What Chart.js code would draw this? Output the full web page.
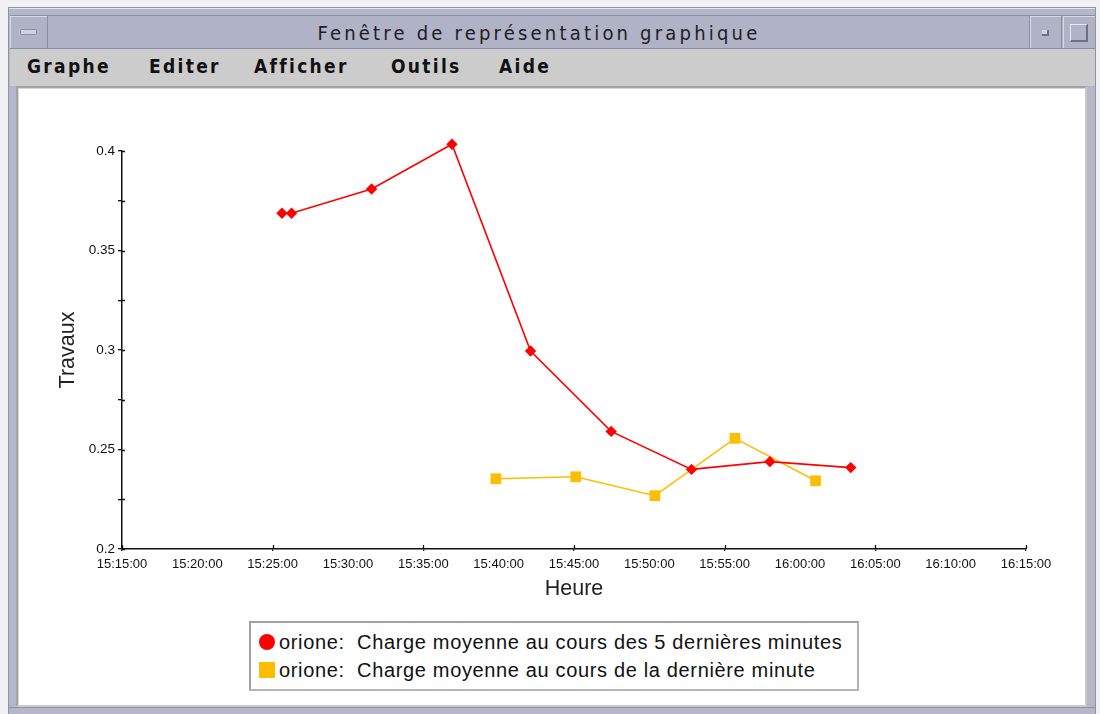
<!DOCTYPE html>
<html lang="fr">
<head>
<meta charset="utf-8">
<title>Fenêtre de représentation graphique</title>
<script src="https://cdn.jsdelivr.net/npm/chart.js@4.4.1/dist/chart.umd.min.js"></script>
<style>
  html, body { margin: 0; padding: 0; width: 1100px; height: 714px; overflow: hidden; background: #f1f1f4; }
  .abs { position: absolute; box-sizing: border-box; }
  #frame { left: 8px; top: 7px; width: 1088px; height: 707px; background: #b5b7c9; border-left: 1px solid #8f91a4; border-top: 1px solid #8f91a4; border-right: 1px solid #8f91a4; }
  #frameLineTop { left: 9px; top: 8px; width: 1086px; height: 1px; background: #e3e4ec; }
  #titlebar { left: 10px; top: 15px; width: 1085px; height: 34px; background: #b0b2c6; border-top: 1px solid #8c8ea2; border-bottom: 1px solid #8c8ea2; }
  #titleText { left: 48px; top: 16px; width: 982px; height: 34px; line-height: 34px; text-align: center; font-family: "DejaVu Sans Condensed", "DejaVu Sans", sans-serif; font-size: 20px; letter-spacing: 3.2px; color: #1e1e24; }
  #btnL { left: 10px; top: 16px; width: 38px; height: 32px; border-right: 1px solid #8c8ea2; box-shadow: inset 1px 1px 0 #d9dae4; }
  #btnLIcon { left: 20px; top: 29px; width: 17px; height: 6px; background: #cfd0dc; border: 1px solid #8c8ea2; border-radius: 2px; }
  #btnR1 { left: 1029px; top: 16px; width: 33px; height: 32px; border-left: 1px solid #8c8ea2; border-right: 1px solid #8c8ea2; box-shadow: inset 1px 1px 0 #d9dae4; }
  #btnR1Icon { left: 1042px; top: 30px; width: 7px; height: 6px; background: #d4d5df; border-right: 2px solid #6d6f84; border-bottom: 2px solid #6d6f84; }
  #btnR2 { left: 1063px; top: 16px; width: 32px; height: 32px; box-shadow: inset 1px 1px 0 #d9dae4; }
  #btnR2Icon { left: 1070px; top: 24px; width: 18px; height: 18px; border: 1px solid #e6e7ef; border-right: 2px solid #6d6f84; border-bottom: 2px solid #6d6f84; }
  #menubar { left: 10px; top: 49px; width: 1085px; height: 37px; background: #cccccc; }
  .menu { top: 52px; height: 28px; line-height: 28px; font-family: "DejaVu Sans Condensed", "DejaVu Sans", sans-serif; font-weight: bold; font-size: 19px; letter-spacing: 2.3px; color: #111; }
  #content { left: 16px; top: 86px; width: 1071px; height: 621px; background: #ffffff; border: 2px solid #a3a3a3; border-right-color: #c9c9c9; border-bottom-color: #c9c9c9; box-shadow: inset 1px 1px 0 #d6d6d6; }
  #frameBottom { left: 9px; top: 707px; width: 1086px; height: 7px; background: #b5b7c9; border-top: 1px solid #8f91a4; }
  #chart { position: absolute; left: 0; top: 0; }
  #legend { left: 249px; top: 621px; width: 610px; height: 70px; border: 2px solid #a2a2a2; border-right-color: #b4b4b4; border-bottom-color: #b4b4b4; background: #fff; padding-top: 5px; }
  .row { position: relative; height: 28px; white-space: pre; font-family: "Liberation Sans", Arial, sans-serif; font-size: 20px; color: #111; line-height: 28px; }
  .mark { position: absolute; left: 8px; top: 6px; width: 16px; height: 16px; }
  .txt { position: absolute; left: 28px; top: 0; letter-spacing: 0.65px; }
</style>
</head>
<body>
<div id="frame" class="abs"></div>
<div id="frameLineTop" class="abs"></div>
<div id="titlebar" class="abs"></div>
<div id="btnL" class="abs"></div>
<div id="btnLIcon" class="abs"></div>
<div id="btnR1" class="abs"></div>
<div id="btnR1Icon" class="abs"></div>
<div id="btnR2" class="abs"></div>
<div id="btnR2Icon" class="abs"></div>
<div id="titleText" class="abs">Fenêtre de représentation graphique</div>
<div id="menubar" class="abs"></div>
<div class="abs menu" style="left:27px">Graphe</div>
<div class="abs menu" style="left:149px">Editer</div>
<div class="abs menu" style="left:254px">Afficher</div>
<div class="abs menu" style="left:391px">Outils</div>
<div class="abs menu" style="left:499px">Aide</div>
<div id="content" class="abs"></div>
<div id="frameBottom" class="abs"></div>
<canvas id="chart" width="1100" height="714"></canvas>
<div id="legend" class="abs"></div>

<script>
// Sample times (HH:MM:SS) and load averages for host "orione"
const load5Times  = ['15:25:37', '15:26:15', '15:31:34', '15:36:54', '15:42:07', '15:47:28', '15:52:48', '15:58:00', '16:03:22'];
const load5Values = [0.3687, 0.3687, 0.3809, 0.4034, 0.2995, 0.2591, 0.2400, 0.2439, 0.2409];

const load1Times  = ['15:39:49', '15:45:07', '15:50:22', '15:55:41', '16:01:02'];
const load1Values = [0.2353, 0.2363, 0.2268, 0.2556, 0.2343];

const seriesLabels = [
  'orione:  Charge moyenne au cours des 5 dernières minutes',
  'orione:  Charge moyenne au cours de la dernière minute'
];

// Axis ranges and tick spacing
const xStart = '15:15:00', xEnd = '16:15:00';
const xLabelStep = 300;   // seconds between time labels
const xMarkStep = 600;    // seconds between tick marks
const yMin = 0.2, yMax = 0.4, yMinorStep = 0.025, yLabelStep = 0.05;

const toSec = t => { const [h, m, s] = t.split(':').map(Number); return h * 3600 + m * 60 + s; };
const fmtTime = v => {
  const h = Math.floor(v / 3600), m = Math.floor((v % 3600) / 60), s = Math.round(v % 60);
  return [h, m, s].map(n => String(n).padStart(2, '0')).join(':');
};
const pts = (times, vals) => times.map((t, i) => ({ x: toSec(t), y: vals[i] }));

const xMin = toSec(xStart), xMax = toSec(xEnd);
const isMark = v => Math.round(v - xMin) % xMarkStep === 0;
const isYLabel = v => Math.round(v * 1000) % Math.round(yLabelStep * 1000) === 0;

const RED = '#ff0000', YELLOW = '#ffbd00';

// Small marks on the inner side of both axes
const innerTicks = {
  id: 'innerTicks',
  beforeDatasetsDraw(chart) {
    const { ctx, chartArea: a, scales: { x, y } } = chart;
    ctx.save();
    ctx.strokeStyle = '#111';
    ctx.lineWidth = 1.3;
    ctx.beginPath();
    y.ticks.forEach(t => {
      const py = Math.round(y.getPixelForValue(t.value)) + 0.5;
      ctx.moveTo(a.left, py); ctx.lineTo(a.left + 3, py);
    });
    x.ticks.forEach(t => {
      if (!isMark(t.value)) return;
      const px = Math.round(x.getPixelForValue(t.value)) + 0.5;
      ctx.moveTo(px, a.bottom); ctx.lineTo(px, a.bottom - 4);
    });
    ctx.stroke();
    ctx.restore();
  }
};

const tickFont = { family: '"Liberation Sans", Arial, sans-serif', size: 13 };
const titleFont = { family: '"Liberation Sans", Arial, sans-serif', size: 21.5 };

const chart = new Chart(document.getElementById('chart'), {
  type: 'line',
  data: {
    datasets: [
      {
        label: seriesLabels[0],
        data: pts(load5Times, load5Values),
        borderColor: RED, backgroundColor: RED,
        borderWidth: 1.6, tension: 0, clip: false,
        pointStyle: 'rectRot', pointRadius: 5.7, pointHoverRadius: 14, pointBorderWidth: 0,
        legendMarker: 'circle'
      },
      {
        label: seriesLabels[1],
        data: pts(load1Times, load1Values),
        borderColor: YELLOW, backgroundColor: YELLOW,
        borderWidth: 1.5, tension: 0, clip: false,
        pointStyle: 'rect', pointRadius: 7.6, pointHoverRadius: 14, pointBorderWidth: 0,
        legendMarker: 'square'
      }
    ]
  },
  options: {
    responsive: false,
    animation: false,
    devicePixelRatio: 1,
    events: [],
    layout: { padding: { left: 50, top: 151, right: 74, bottom: 109 } },
    plugins: { legend: { display: false }, tooltip: { enabled: false } },
    scales: {
      x: {
        type: 'linear',
        min: xMin, max: xMax,
        afterFit: s => { s.height = 56; },
        border: { display: true, color: '#111', width: 1.5 },
        grid: {
          drawOnChartArea: false, drawTicks: true, tickLength: 2,
          color: ctx => (ctx.tick && isMark(ctx.tick.value)) ? '#111' : 'rgba(0,0,0,0)',
          lineWidth: 1.3
        },
        ticks: {
          stepSize: xLabelStep, autoSkip: false, maxRotation: 0, padding: 6,
          color: '#111', font: tickFont,
          callback: v => fmtTime(v)
        },
        title: { display: true, text: 'Heure', color: '#222', font: titleFont, padding: { top: 4, bottom: 3 } }
      },
      y: {
        type: 'linear',
        min: yMin, max: yMax,
        afterFit: s => { s.width = 72; },
        border: { display: true, color: '#111', width: 1.5 },
        grid: { drawOnChartArea: false, drawTicks: true, tickLength: 4, color: '#111', lineWidth: 1.3 },
        ticks: {
          stepSize: yMinorStep, autoSkip: false, padding: 3,
          color: '#111', font: { ...tickFont, size: 13.5 },
          callback: v => isYLabel(v) ? String(Math.round(v * 100) / 100) : ''
        },
        title: { display: true, text: 'Travaux', color: '#222', font: titleFont, padding: { top: 5, bottom: 5 } }
      }
    }
  },
  plugins: [innerTicks]
});

// Legend box built from the chart's datasets
const legend = document.getElementById('legend');
chart.data.datasets.forEach(ds => {
  const row = document.createElement('div');
  row.className = 'row';
  const mark = document.createElement('span');
  mark.className = 'mark';
  mark.style.background = ds.borderColor;
  if (ds.legendMarker === 'circle') mark.style.borderRadius = '50%';
  const txt = document.createElement('span');
  txt.className = 'txt';
  txt.textContent = ds.label;
  row.appendChild(mark);
  row.appendChild(txt);
  legend.appendChild(row);
});
</script>
</body>
</html>
